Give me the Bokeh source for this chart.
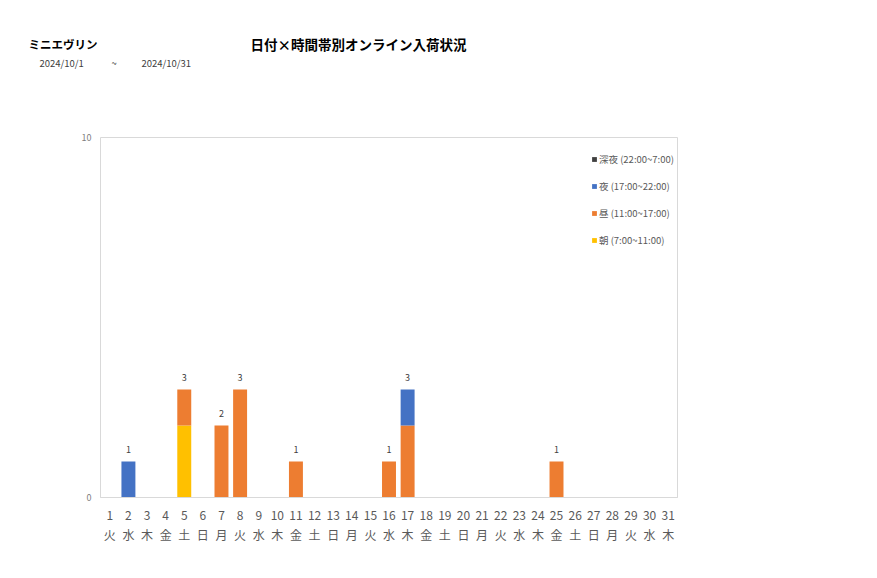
from bokeh.plotting import figure
from bokeh.layouts import column
from bokeh.models import Range1d, FixedTicker, Legend, LegendItem, ColumnDataSource
from bokeh.embed import file_html
from bokeh.resources import INLINE
from bokeh.core.properties import value

days = list(range(1, 32))
weekdays = ["火", "水", "木", "金", "土", "日", "月"] * 5
weekdays = weekdays[:31]

asa = [0] * 31      # 朝 (7:00~11:00)
hiru = [0] * 31     # 昼 (11:00~17:00)
yoru = [0] * 31     # 夜 (17:00~22:00)
shinya = [0] * 31   # 深夜 (22:00~7:00)
asa_vals = {5: 2}
hiru_vals = {5: 1, 7: 2, 8: 3, 11: 1, 16: 1, 17: 2, 25: 1}
yoru_vals = {2: 1, 17: 1}
for d, v in asa_vals.items():
    asa[d - 1] = v
for d, v in hiru_vals.items():
    hiru[d - 1] = v
for d, v in yoru_vals.items():
    yoru[d - 1] = v

series_names = ["朝 (7:00~11:00)", "昼 (11:00~17:00)", "夜 (17:00~22:00)", "深夜 (22:00~7:00)"]
colors = ["#FFC000", "#ED7D31", "#4472C4", "#404040"]

brand = "ミニエヴリン"
main_title = "日付×時間帯別オンライン入荷状況"
date_from = "2024/10/1"
date_to = "2024/10/31"

FONT = "Noto Sans CJK JP"
HEAD_H = 100

# ---------- header with titles ----------
h = figure(width=877, height=HEAD_H, output_backend="svg", toolbar_location=None,
           x_range=Range1d(0, 877), y_range=Range1d(HEAD_H, 0), min_border=0)
h.frame_align = False
h.axis.visible = False
h.grid.visible = False
h.outline_line_color = None
h.text(x=[28], y=[43], text=[brand], text_font=value(FONT), text_font_size="11.5px",
       text_font_style="bold", text_baseline="middle", text_color="#000000")
h.text(x=[250], y=[43], text=[main_title], text_font=value(FONT), text_font_size="13.5px",
       text_font_style="bold", text_baseline="middle", text_color="#000000")
h.text(x=[39, 111, 141], y=[62, 62, 62], text=[date_from, "~", date_to], text_font=value(FONT),
       text_font_size="9.5px", text_baseline="middle", text_color="#404040")

# ---------- main chart ----------
src = ColumnDataSource(dict(x=days, asa=asa, hiru=hiru, yoru=yoru, shinya=shinya))

p = figure(width=877, height=578 - HEAD_H, output_backend="svg", toolbar_location=None,
           x_range=Range1d(0.5, 31.5), y_range=Range1d(0, 10),
           min_border_left=100, min_border_right=200, min_border_top=137 - HEAD_H,
           min_border_bottom=81)
p.frame_align = False
p.grid.visible = False
p.outline_line_color = "#D9D9D9"
p.background_fill_color = "white"
p.border_fill_color = "white"

rs = p.vbar_stack(["asa", "hiru", "yoru", "shinya"], x="x", width=0.75, color=colors,
                  line_color=None, source=src)

totals = [a + b + c + d for a, b, c, d in zip(asa, hiru, yoru, shinya)]
lx = [d for d, t in zip(days, totals) if t > 0]
ly = [t for t in totals if t > 0]
p.text(x=lx, y=ly, text=[str(t) for t in ly], text_align="center", text_baseline="bottom",
       y_offset=-9, text_font_size="9px", text_color="#404040", text_font=value(FONT))

xa = p.xaxis[0]
xa.ticker = FixedTicker(ticks=days)
xa.major_label_overrides = {d: f"{d}\n{w}" for d, w in zip(days, weekdays)}
xa.major_tick_line_color = None
xa.minor_tick_line_color = None
xa.axis_line_color = "#D9D9D9"
xa.major_label_text_font = FONT
xa.major_label_text_font_size = "12px"
xa.major_label_text_color = "#595959"
xa.major_label_standoff = 2

ya = p.yaxis[0]
ya.ticker = FixedTicker(ticks=[0, 10])
ya.major_tick_line_color = None
ya.minor_tick_line_color = None
ya.axis_line_color = None
ya.major_label_text_font = FONT
ya.major_label_text_font_size = "9px"
ya.major_label_text_color = "#808080"
ya.major_label_standoff = 3

items = [LegendItem(label=series_names[i], renderers=[rs[i]]) for i in [3, 2, 1, 0]]
leg = Legend(items=items, location=(491, 250), orientation="vertical")
leg.glyph_width = 6
leg.glyph_height = 6
leg.label_height = 10
leg.spacing = 13
leg.padding = 0
leg.margin = 0
leg.label_standoff = 2
leg.label_text_font = FONT
leg.label_text_font_size = "9.5px"
leg.label_text_color = "#595959"
leg.border_line_alpha = 0
leg.background_fill_alpha = 0
p.add_layout(leg)

layout = column(h, p, spacing=0)
open("out.html", "w").write(file_html(layout, INLINE))
